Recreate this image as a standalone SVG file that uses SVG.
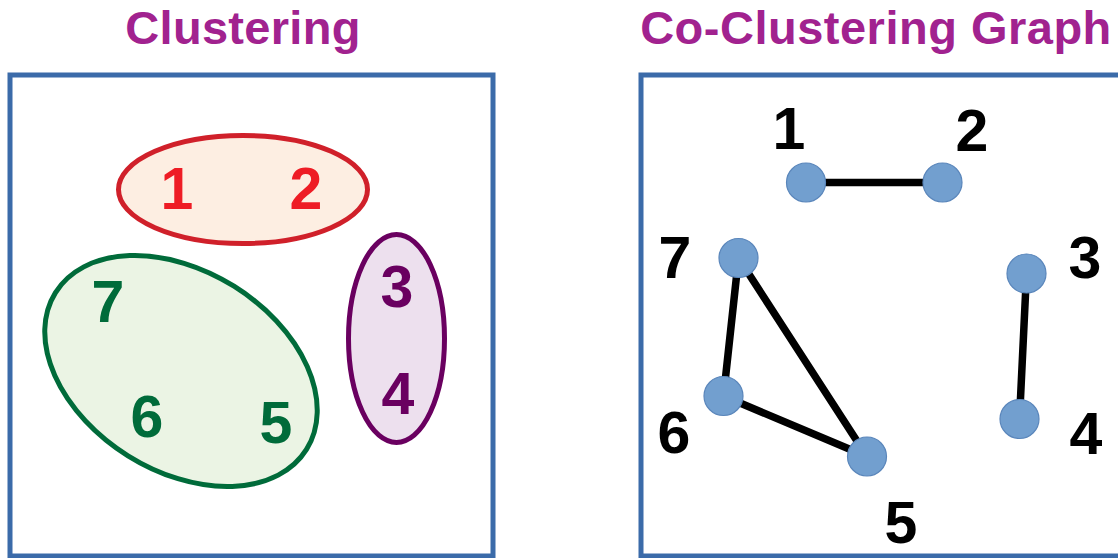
<svg xmlns="http://www.w3.org/2000/svg" width="1118" height="558" viewBox="0 0 1118 558">
<style>
text{font-family:"Liberation Sans",Arial,sans-serif;font-weight:bold}
.title{font-size:47px;fill:#a1228f;text-anchor:middle}
.num{font-size:59px;text-anchor:middle}
.frame{fill:#ffffff;stroke:#3b6ba9;stroke-width:5}
.node{fill:#729fcf;stroke:#5a86bb;stroke-width:1.2}
.edge{stroke:#000000;stroke-width:7.5;stroke-linecap:round}
.k{fill:#000000}
</style>
<rect width="1118" height="558" fill="#ffffff"/>
<g id="left-panel">
<text class="title" x="243" y="44" letter-spacing="0.3">Clustering</text>
<rect class="frame" x="10" y="75" width="483" height="481"/>
</g>
<g id="cluster-red">
<ellipse cx="243" cy="189.5" rx="124.5" ry="54" fill="#fdeee2" stroke="#d0202a" stroke-width="5"/>
<text class="num" x="177" y="209" fill="#ee1c25">1</text>
<text class="num" x="306" y="209" fill="#ee1c25">2</text>
</g>
<g id="cluster-purple">
<ellipse cx="396.5" cy="338.5" rx="48" ry="104" fill="#ede0ee" stroke="#6a0060" stroke-width="5"/>
<text class="num" x="397" y="307" fill="#6a0060">3</text>
<text class="num" x="398" y="414" fill="#6a0060">4</text>
</g>
<g id="cluster-green">
<ellipse cx="0" cy="0" rx="148" ry="100" transform="translate(181 371) rotate(32)" fill="#ebf4e4" stroke="#006b3a" stroke-width="5"/>
<text class="num" x="108" y="322" fill="#006b3a">7</text>
<text class="num" x="147" y="437" fill="#006b3a">6</text>
<text class="num" x="276" y="443" fill="#006b3a">5</text>
</g>
<g id="right-panel">
<text class="title" x="876" y="44" letter-spacing="0.5">Co-Clustering Graph</text>
<rect class="frame" x="641" y="75" width="500" height="481"/>
</g>
<g id="connectors">
<line class="edge" x1="806" y1="182.5" x2="942.5" y2="182.5"/>
<line class="edge" x1="738.5" y1="258" x2="723.5" y2="396"/>
<line class="edge" x1="738.5" y1="258" x2="867" y2="456.5"/>
<line class="edge" x1="723.5" y1="396" x2="867" y2="456.5"/>
<line class="edge" x1="1026.5" y1="273.5" x2="1019.5" y2="419"/>
</g>
<g id="node-1"><ellipse class="node" cx="806" cy="182.5" rx="19.5" ry="19.5"/><text class="num k" x="789" y="149">1</text></g>
<g id="node-2"><ellipse class="node" cx="942.5" cy="182.5" rx="19.5" ry="19.5"/><text class="num k" x="972" y="151">2</text></g>
<g id="node-7"><ellipse class="node" cx="738.5" cy="258" rx="19.5" ry="19.5"/><text class="num k" x="675" y="278">7</text></g>
<g id="node-3"><ellipse class="node" cx="1026.5" cy="273.5" rx="19.5" ry="19.5"/><text class="num k" x="1085" y="278">3</text></g>
<g id="node-6"><ellipse class="node" cx="723.5" cy="396" rx="19.5" ry="19.5"/><text class="num k" x="674" y="453">6</text></g>
<g id="node-4"><ellipse class="node" cx="1019.5" cy="419" rx="19.5" ry="19.5"/><text class="num k" x="1086" y="454">4</text></g>
<g id="node-5"><ellipse class="node" cx="867" cy="456.5" rx="19.5" ry="19.5"/><text class="num k" x="901" y="543">5</text></g>
</svg>
